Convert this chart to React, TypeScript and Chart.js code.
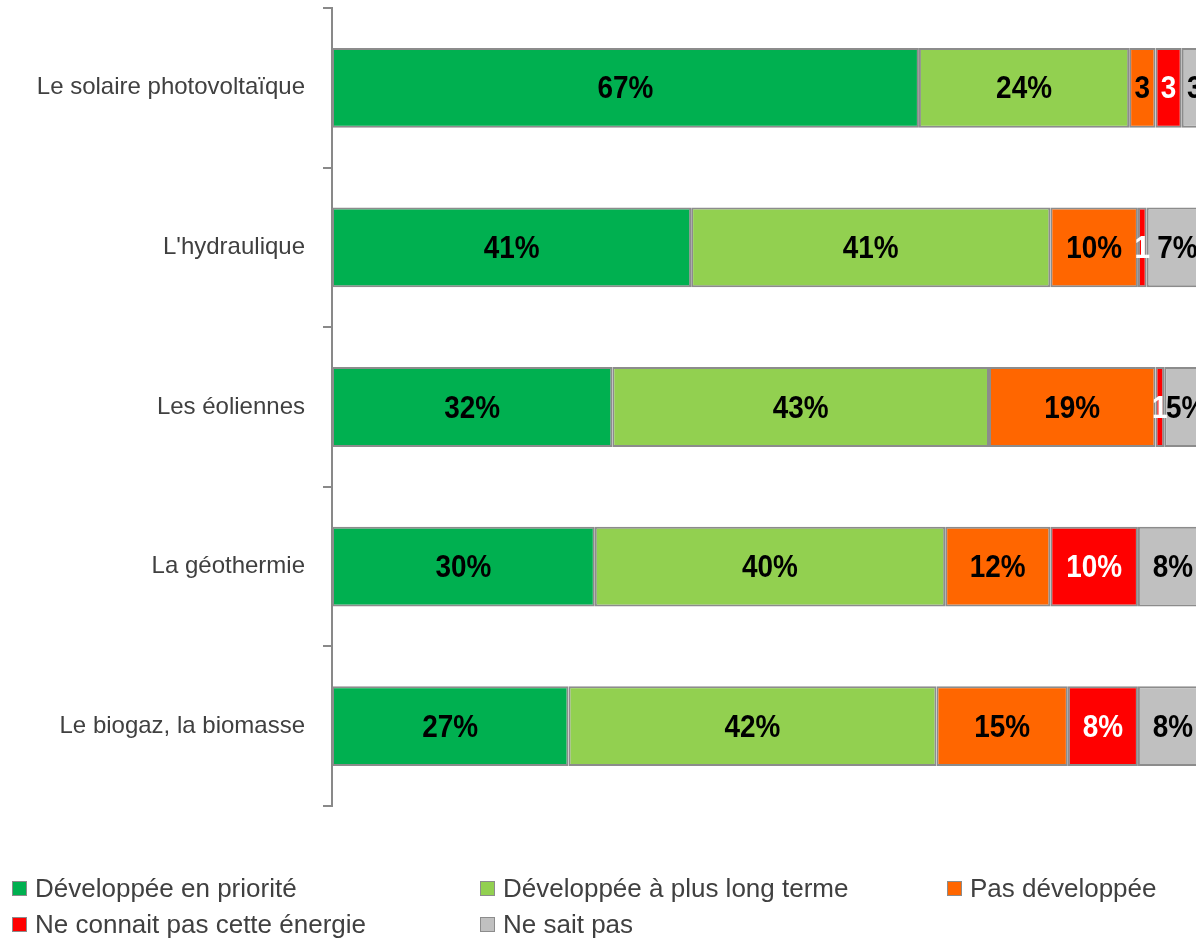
import React, { useEffect, useRef } from "react";
import { Chart, registerables } from "chart.js";

Chart.register(...registerables);

const categories = [
  "Le solaire photovoltaïque",
  "L'hydraulique",
  "Les éoliennes",
  "La géothermie",
  "Le biogaz, la biomasse",
];

const seriesNames = [
  "Développée en priorité",
  "Développée à plus long terme",
  "Pas développée",
  "Ne connait pas cette énergie",
  "Ne sait pas",
];

const prioriteValues = [67, 41, 32, 30, 27];
const longTermeValues = [24, 41, 43, 40, 42];
const pasDevValues = [3, 10, 19, 12, 15];
const neConnaitValues = [3, 1, 1, 10, 8];
const neSaitValues = [3, 7, 5, 8, 8];

const seriesColors = ["#00B050", "#92D050", "#FF6600", "#FF0000", "#C0C0C0"];
const labelColors = ["#000000", "#000000", "#000000", "#FFFFFF", "#000000"];

const allValues = [prioriteValues, longTermeValues, pasDevValues, neConnaitValues, neSaitValues];

const W = 1196;
const H = 938;

const labelPlugin = {
  id: "segLabels",
  afterDatasetsDraw(chart: any) {
    const ctx = chart.ctx;
    chart.data.datasets.forEach((ds: any, i: number) => {
      const meta = chart.getDatasetMeta(i);
      meta.data.forEach((el: any, j: number) => {
        const v = ds.data[j];
        const txt = v >= 5 ? v + "%" : String(v);
        const cx = (el.x + el.base) / 2;
        ctx.save();
        ctx.font = "bold 31px 'Liberation Sans', Arial, sans-serif";
        ctx.textAlign = "center";
        ctx.textBaseline = "middle";
        ctx.fillStyle = labelColors[i];
        ctx.translate(cx, el.y + 2);
        ctx.scale(0.9, 1);
        ctx.fillText(txt, 0, 0);
        ctx.restore();
      });
    });
  },
};

export default function App() {
  const ref = useRef<HTMLCanvasElement>(null);

  useEffect(() => {
    if (!ref.current) return;
    const chart = new Chart(ref.current, {
      type: "bar",
      data: {
        labels: categories,
        datasets: allValues.map((vals, i) => ({
          label: seriesNames[i],
          data: vals,
          backgroundColor: seriesColors[i],
          borderColor: "#8C8C8C",
          borderWidth: 2,
          borderSkipped: false,
          barPercentage: 0.5,
          categoryPercentage: 1.0,
        })),
      },
      options: {
        indexAxis: "y",
        animation: false,
        responsive: false,
        maintainAspectRatio: false,
        layout: { padding: { top: 8, bottom: H - 806, left: 0, right: 0 } },
        plugins: {
          legend: { display: false },
          tooltip: { enabled: false },
        },
        scales: {
          x: {
            stacked: true,
            min: 0,
            max: 98.63,
            display: false,
          },
          y: {
            stacked: true,
            afterFit: (s: any) => {
              s.width = 332;
              s.paddingTop = 0;
              s.paddingBottom = 0;
            },
            grid: {
              display: true,
              drawOnChartArea: false,
              drawTicks: true,
              tickLength: 9,
              color: "#898989",
              lineWidth: 2,
              offset: true,
            },
            border: { display: true, color: "#898989", width: 2 },
            ticks: {
              padding: 18,
              color: "#404040",
              font: { family: "'Liberation Sans', Arial, sans-serif", size: 24 },
            },
          },
        },
      },
      plugins: [labelPlugin],
    } as any);
    return () => chart.destroy();
  }, []);

  const legendPos = [
    [12, 871],
    [480, 871],
    [947, 871],
    [12, 907],
    [480, 907],
  ];

  return (
    <div style={{ position: "fixed", left: 0, top: 0, width: W, height: H, overflow: "hidden", background: "#fff" }}>
      <canvas ref={ref} width={W} height={H} style={{ position: "absolute", left: 0, top: 0, width: W, height: H }} />
      {seriesNames.map((name, i) => (
        <div
          key={name}
          style={{
            position: "absolute",
            left: legendPos[i][0],
            top: legendPos[i][1],
            height: 35,
            display: "flex",
            alignItems: "center",
            whiteSpace: "nowrap",
            fontFamily: "'Liberation Sans', Arial, sans-serif",
            fontSize: 26,
            lineHeight: "35px",
            color: "#404040",
          }}
        >
          <span
            style={{
              display: "inline-block",
              width: 15,
              height: 15,
              boxSizing: "border-box",
              background: seriesColors[i],
              border: "1.5px solid #8C8C8C",
              marginRight: 8,
            }}
          />
          <span>{name}</span>
        </div>
      ))}
    </div>
  );
}
